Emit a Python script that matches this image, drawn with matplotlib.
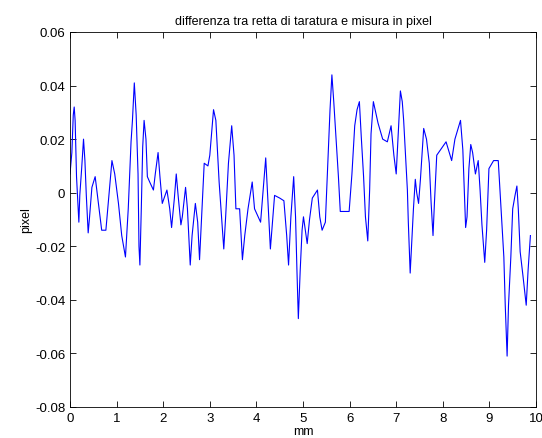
import numpy as np
import matplotlib
matplotlib.use('Agg')
import matplotlib.pyplot as plt

# posizione (mm) e differenza (pixel)
mm = [0.00, 0.04, 0.07, 0.09, 0.11, 0.14, 0.19, 0.21, 0.25, 0.29,
      0.32, 0.35, 0.39, 0.42, 0.47, 0.54, 0.61, 0.68, 0.77, 0.82,
      0.90, 0.96, 1.04, 1.11, 1.19, 1.25, 1.31, 1.34, 1.38, 1.42,
      1.46, 1.48, 1.50, 1.53, 1.56, 1.59, 1.63, 1.66, 1.71, 1.79,
      1.83, 1.89, 1.93, 1.98, 2.02, 2.08, 2.14, 2.18, 2.24, 2.28,
      2.32, 2.38, 2.41, 2.48, 2.52, 2.58, 2.62, 2.69, 2.74, 2.78,
      2.81, 2.88, 2.96, 3.00, 3.08, 3.13, 3.20, 3.26, 3.30, 3.34,
      3.40, 3.47, 3.52, 3.56, 3.64, 3.70, 3.75, 3.82, 3.91, 3.96,
      4.09, 4.14, 4.20, 4.25, 4.30, 4.34, 4.39, 4.50, 4.59, 4.65,
      4.69, 4.74, 4.80, 4.84, 4.87, 4.90, 4.94, 4.98, 5.01, 5.05,
      5.09, 5.14, 5.20, 5.31, 5.36, 5.41, 5.48, 5.54, 5.58, 5.62,
      5.66, 5.71, 5.76, 5.80, 5.89, 5.99, 6.05, 6.11, 6.16, 6.21,
      6.25, 6.30, 6.34, 6.39, 6.43, 6.46, 6.51, 6.56, 6.61, 6.71,
      6.81, 6.89, 6.95, 7.00, 7.05, 7.09, 7.13, 7.16, 7.20, 7.24,
      7.26, 7.30, 7.34, 7.37, 7.41, 7.44, 7.48, 7.52, 7.59, 7.65,
      7.71, 7.75, 7.79, 7.82, 7.87, 7.95, 8.07, 8.19, 8.26, 8.38,
      8.43, 8.46, 8.49, 8.52, 8.56, 8.60, 8.64, 8.70, 8.76, 8.80,
      8.84, 8.90, 8.94, 8.99, 9.09, 9.19, 9.25, 9.31, 9.34, 9.38,
      9.41, 9.46, 9.50, 9.55, 9.59, 9.62, 9.66, 9.72, 9.79, 9.83,
      9.88]
diff = [0.007, 0.015, 0.029, 0.032, 0.027, 0.006, -0.011, -0.001, 0.009, 0.020,
        0.012, -0.001, -0.015, -0.009, 0.002, 0.006, -0.004, -0.014, -0.014, -0.004,
        0.012, 0.007, -0.004, -0.016, -0.024, -0.006, 0.019, 0.027, 0.041, 0.029,
        0.007, -0.020, -0.027, -0.006, 0.017, 0.027, 0.020, 0.006, 0.004, 0.001,
        0.007, 0.015, 0.006, -0.004, -0.002, 0.001, -0.006, -0.013, -0.002, 0.007,
        -0.001, -0.012, -0.009, 0.002, -0.006, -0.027, -0.016, -0.004, -0.011, -0.025,
        -0.014, 0.011, 0.010, 0.014, 0.031, 0.027, 0.004, -0.011, -0.021, -0.009,
        0.011, 0.025, 0.014, -0.006, -0.006, -0.025, -0.016, -0.006, 0.004, -0.006,
        -0.011, 0.000, 0.013, -0.004, -0.021, -0.012, -0.001, -0.002, -0.003, -0.016,
        -0.027, -0.009, 0.006, -0.009, -0.029, -0.047, -0.029, -0.014, -0.009, -0.014,
        -0.019, -0.010, -0.002, 0.001, -0.009, -0.014, -0.011, 0.014, 0.031, 0.044,
        0.034, 0.020, 0.006, -0.007, -0.007, -0.007, 0.007, 0.025, 0.031, 0.034,
        0.021, 0.006, -0.009, -0.018, 0.001, 0.022, 0.034, 0.030, 0.026, 0.020,
        0.019, 0.025, 0.014, 0.007, 0.024, 0.038, 0.034, 0.027, 0.014, 0.001,
        -0.011, -0.030, -0.016, -0.006, 0.005, 0.000, -0.004, 0.005, 0.024, 0.020,
        0.011, -0.004, -0.016, -0.004, 0.014, 0.016, 0.019, 0.012, 0.020, 0.027,
        0.016, 0.002, -0.013, -0.009, 0.009, 0.018, 0.015, 0.007, 0.012, 0.001,
        -0.012, -0.026, -0.014, 0.009, 0.012, 0.012, -0.006, -0.024, -0.042, -0.061,
        -0.042, -0.024, -0.006, -0.001, 0.0025, -0.006, -0.022, -0.031, -0.042, -0.029,
        -0.016]

xticks = list(range(0, 11))
yticks = [-0.08, -0.06, -0.04, -0.02, 0, 0.02, 0.04, 0.06]
yticklabels = ['-0.08', '-0.06', '-0.04', '-0.02', '0', '0.02', '0.04', '0.06']

plt.rcParams['font.family'] = 'Liberation Sans'
fig = plt.figure(figsize=(5.42, 4.39), dpi=100)
ax = fig.add_axes([70 / 542, 31 / 439, 466 / 542, 375 / 439])
ax.plot(mm, diff, color='#0000ff', linewidth=0.8)
ax.set_xlim(0, 10)
ax.set_ylim(-0.08, 0.06)
ax.set_xticks(xticks)
ax.set_yticks(yticks)
ax.set_yticklabels(yticklabels)
ax.tick_params(direction='in', top=True, right=True, labelsize=9.5, length=4, width=0.6)
for s in ax.spines.values():
    s.set_linewidth(0.6)
ax.set_xlabel('mm', fontsize=9, labelpad=1)
ax.set_ylabel('pixel', fontsize=9, labelpad=2)
ax.set_title('differenza tra retta di taratura e misura in pixel', fontsize=9, pad=6)
fig.savefig('out.png', dpi=100)
